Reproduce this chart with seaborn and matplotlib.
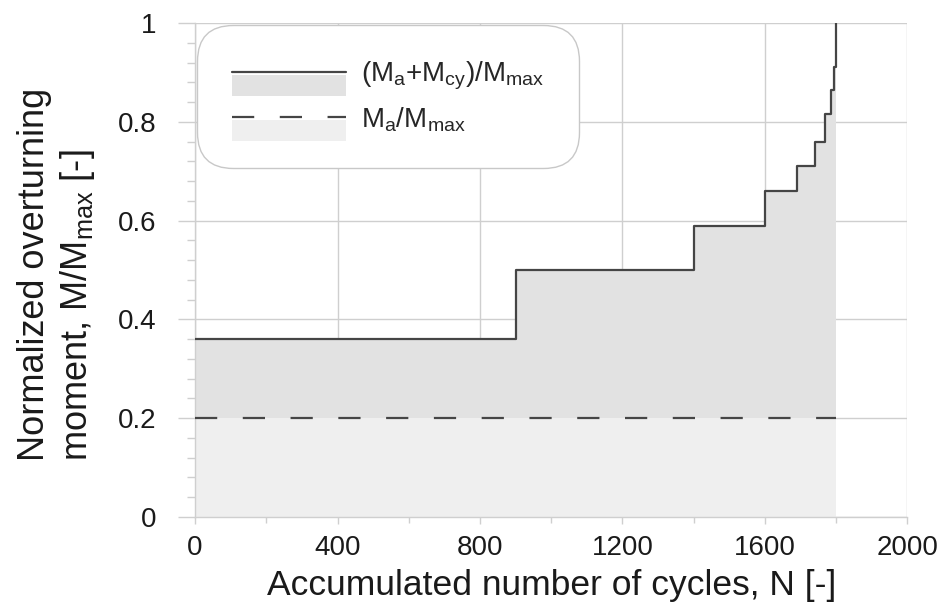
import numpy as np
import pandas as pd
import seaborn as sns
from matplotlib import pyplot as plt
from matplotlib.patches import Rectangle
from matplotlib.lines import Line2D
from matplotlib.legend_handler import HandlerBase
from matplotlib.ticker import MultipleLocator

# step levels of (Ma+Mcy)/Mmax (steps-post)
cycles = [0, 900, 1400, 1600, 1690, 1740, 1770, 1787, 1793, 1800]
m_total = [0.36, 0.50, 0.59, 0.66, 0.71, 0.76, 0.815, 0.865, 0.91, 1.0]
# Ma/Mmax constant
ma_cycles = [0, 1800]
ma_ratio = [0.2, 0.2]

df = pd.DataFrame({"N": cycles, "M": m_total})
df_a = pd.DataFrame({"N": ma_cycles, "M": ma_ratio})

sns.set_style("white")
plt.rcParams["font.family"] = ["Liberation Sans", "DejaVu Sans"]
plt.rcParams["mathtext.fontset"] = "custom"
plt.rcParams["mathtext.rm"] = "Liberation Sans"

fig = plt.figure(figsize=(9.47, 6.06), dpi=100)
ax = fig.add_axes([0.206, 0.147, 0.752, 0.815])

gridc = "#cfcfcf"
linec = "#454545"
fill_top = "#e2e2e2"
fill_bot = "#efefef"
dash = (0, (10, 11.5))

# shaded areas
ax.fill_between(df_a["N"], 0, df_a["M"], color=fill_bot, lw=0, zorder=1)
ax.fill_between(df["N"], df_a["M"].iloc[0], df["M"], step="post",
                color=fill_top, lw=0, zorder=1)

sns.lineplot(data=df, x="N", y="M", drawstyle="steps-post", color=linec,
             lw=1.6, ax=ax, zorder=3, legend=False)
sns.lineplot(data=df_a, x="N", y="M", color=linec, lw=1.6, ax=ax, zorder=3,
             legend=False, linestyle=dash)

ax.set_xlim(0, 2000)
ax.set_ylim(0, 1)
ax.xaxis.set_major_locator(MultipleLocator(400))
ax.xaxis.set_minor_locator(MultipleLocator(200))
ax.yaxis.set_minor_locator(MultipleLocator(0.04))
ax.set_yticks([0, 0.2, 0.4, 0.6, 0.8, 1.0])
ax.set_yticklabels(["0", "0.2", "0.4", "0.6", "0.8", "1"])

ax.grid(True, which="major", color=gridc, lw=1.0, zorder=0)
ax.set_axisbelow(True)
ax.tick_params(which="both", bottom=True, left=True, direction="out",
               color=gridc, width=1)
ax.tick_params(axis="y", which="major", length=12, pad=16)
ax.tick_params(axis="y", which="minor", length=6)
ax.tick_params(axis="x", which="major", length=5, pad=8)
ax.tick_params(axis="x", which="minor", length=4)
ax.tick_params(which="major", labelsize=20, labelcolor="#1a1a1a")

for s in ["top", "right"]:
    ax.spines[s].set_visible(False)
for s in ["left", "bottom"]:
    ax.spines[s].set_color(gridc)
    ax.spines[s].set_linewidth(1.0)

ax.set_xlabel("Accumulated number of cycles, N [-]", fontsize=25.5,
              color="#1a1a1a", labelpad=6)
ax.set_ylabel("Normalized overturning\nmoment, M/M$_\\mathregular{max}$ [-]",
              fontsize=26, color="#1a1a1a", labelpad=15, linespacing=1.2,
              multialignment="left")
ax.yaxis.label.set_y(0.49)


class LineOverFill(HandlerBase):
    # line on top edge with a grey band just below it
    def __init__(self, fc, ls):
        super().__init__()
        self.fc = fc
        self.ls = ls

    def create_artists(self, legend, orig, xd, yd, w, h, fontsize, trans):
        yc = h / 2 - yd
        band = Rectangle((-xd, yc - 0.95 * h), w, 0.85 * h, fc=self.fc,
                         ec="none", transform=trans)
        ln = Line2D([-xd, -xd + w], [yc, yc], color=linec, lw=1.6,
                    linestyle=self.ls, transform=trans)
        return [band, ln]


h1 = Line2D([], [])
h2 = Line2D([], [])
leg = ax.legend([h1, h2],
                ["(M$_\\mathregular{a}$+M$_\\mathregular{cy}$)/M$_\\mathregular{max}$",
                 "M$_\\mathregular{a}$/M$_\\mathregular{max}$"],
                handler_map={h1: LineOverFill(fill_top, "-"),
                             h2: LineOverFill(fill_bot, dash)},
                loc="upper left", bbox_to_anchor=(0.003, 0.996),
                borderaxespad=0, fontsize=20, handlelength=4.1,
                handleheight=1.0, borderpad=1.25, labelspacing=0.45,
                handletextpad=0.55, fancybox=True, framealpha=1,
                edgecolor="#c8c8c8")
leg.get_frame().set_boxstyle("round", pad=0, rounding_size=1.3)
leg.get_frame().set_linewidth(1.0)

plt.savefig("out.png", dpi=100)
